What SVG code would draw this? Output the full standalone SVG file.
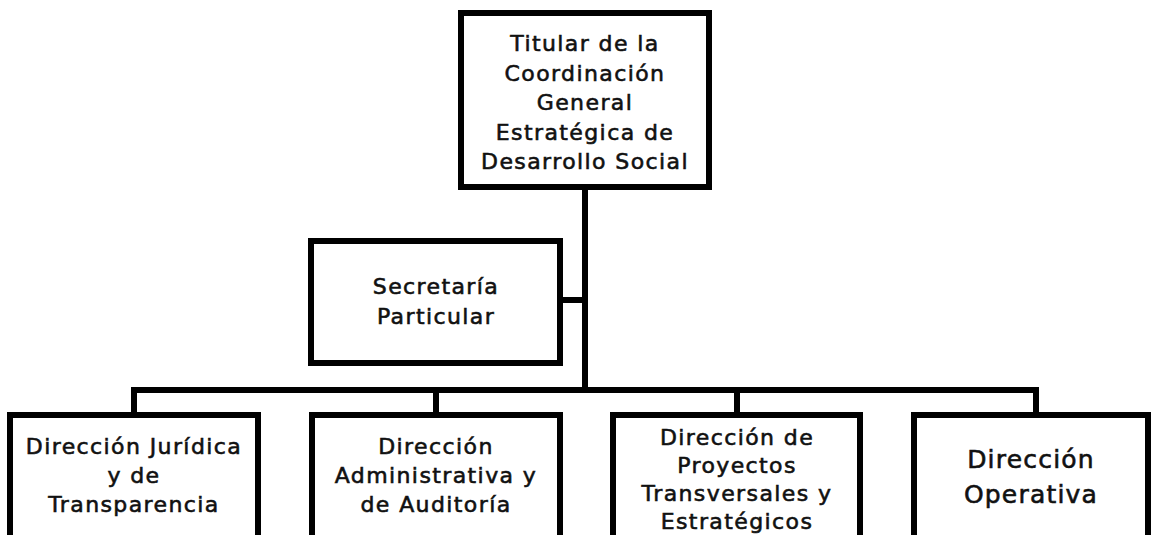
<svg xmlns="http://www.w3.org/2000/svg" width="1151" height="535" viewBox="0 0 1151 535">
<style>
.box{fill:#fff;stroke:#000;stroke-width:6;stroke-linejoin:miter}
.ln{fill:none;stroke:#000;stroke-width:6;stroke-linecap:square}
text{font-family:"DejaVu Sans","Liberation Sans",sans-serif;font-weight:normal;font-size:22px;letter-spacing:1.4px;fill:#111;stroke:#111;stroke-width:0.6;text-anchor:middle}
.big{font-size:25px;letter-spacing:1.2px}
</style>
<rect width="1151" height="535" fill="#fff"/>
<g id="connectors">
<line class="ln" x1="585" y1="187" x2="585" y2="390"/>
<line class="ln" x1="560" y1="300" x2="585" y2="300"/>
<line class="ln" x1="134" y1="390" x2="1036" y2="390"/>
<line class="ln" x1="134" y1="390" x2="134" y2="415"/>
<line class="ln" x1="436" y1="390" x2="436" y2="415"/>
<line class="ln" x1="737" y1="390" x2="737" y2="415"/>
<line class="ln" x1="1036" y1="390" x2="1036" y2="415"/>
</g>
<g id="titular">
<rect class="box" x="461" y="13" width="248" height="174"/>
<text x="585" y="51">Titular de la</text>
<text x="585" y="81">Coordinación</text>
<text x="585" y="110">General</text>
<text x="585" y="140">Estratégica de</text>
<text x="585" y="169">Desarrollo Social</text>
</g>
<g id="secretaria">
<rect class="box" x="311" y="241" width="249" height="122"/>
<text x="436" y="294">Secretaría</text>
<text x="436" y="324">Particular</text>
</g>
<g id="juridica">
<rect class="box" x="10" y="415" width="248" height="140"/>
<text x="134" y="454">Dirección Jurídica</text>
<text x="134" y="483">y de</text>
<text x="134" y="512">Transparencia</text>
</g>
<g id="administrativa">
<rect class="box" x="312" y="415" width="248" height="140"/>
<text x="436" y="454">Dirección</text>
<text x="436" y="483">Administrativa y</text>
<text x="436" y="512">de Auditoría</text>
</g>
<g id="proyectos">
<rect class="box" x="613" y="415" width="247" height="140"/>
<text x="737" y="445">Dirección de</text>
<text x="737" y="473">Proyectos</text>
<text x="737" y="501">Transversales y</text>
<text x="737" y="529">Estratégicos</text>
</g>
<g id="operativa">
<rect class="box" x="914" y="415" width="234" height="140"/>
<text class="big" x="1031" y="468">Dirección</text>
<text class="big" x="1031" y="503">Operativa</text>
</g>
</svg>
